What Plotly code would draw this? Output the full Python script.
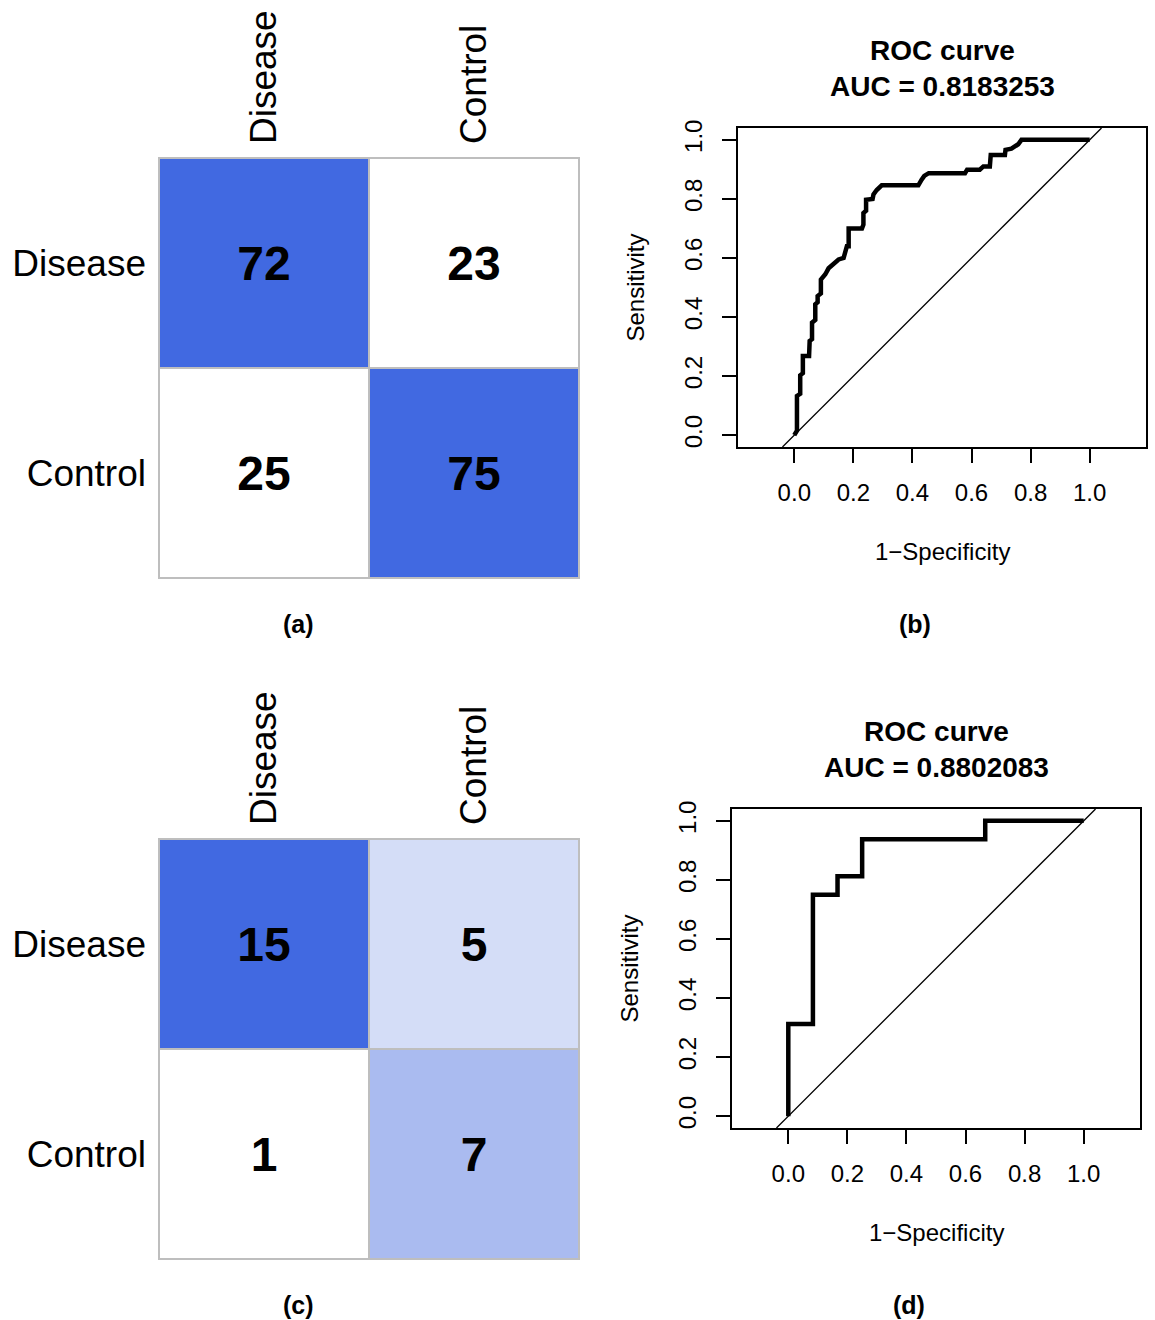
import plotly.graph_objects as go

# ---- data -------------------------------------------------------------
classes = ["Disease", "Control"]

# confusion matrices (rows: predicted, columns: actual)
cm_train = [[72, 23],
            [25, 75]]
cm_test = [[15, 5],
           [1, 7]]

# ROC curve vertices (1 - specificity, sensitivity)
roc_train_fpr = [0.000, 0.009, 0.009, 0.020, 0.020, 0.029, 0.029, 0.050, 0.052,
                 0.060, 0.060, 0.071, 0.071, 0.079, 0.079, 0.090, 0.090, 0.105,
                 0.116, 0.133, 0.150, 0.167, 0.175, 0.178, 0.184, 0.184, 0.229,
                 0.234, 0.234, 0.243, 0.243, 0.265, 0.268, 0.279, 0.296, 0.420,
                 0.431, 0.440, 0.455, 0.578, 0.585, 0.628, 0.640, 0.662, 0.665,
                 0.713, 0.715, 0.735, 0.758, 0.769, 1.000]
roc_train_tpr = [0.000, 0.015, 0.133, 0.140, 0.203, 0.210, 0.268, 0.268, 0.319,
                 0.325, 0.381, 0.390, 0.443, 0.450, 0.471, 0.480, 0.527, 0.545,
                 0.565, 0.580, 0.595, 0.600, 0.625, 0.640, 0.640, 0.700, 0.700,
                 0.713, 0.752, 0.760, 0.797, 0.800, 0.815, 0.830, 0.846, 0.846,
                 0.865, 0.878, 0.887, 0.887, 0.899, 0.899, 0.910, 0.910, 0.949,
                 0.949, 0.966, 0.970, 0.985, 1.000, 1.000]
auc_train = 0.8183253

roc_test_fpr = [0.0, 0.0, 1/12, 1/12, 2/12, 2/12, 3/12, 3/12, 8/12, 8/12, 1.0]
roc_test_tpr = [0.0, 5/16, 5/16, 12/16, 12/16, 13/16, 13/16, 15/16, 15/16, 1.0, 1.0]
auc_test = 0.8802083

roc_ticks = [0.0, 0.2, 0.4, 0.6, 0.8, 1.0]

# ---- styling ----------------------------------------------------------
FONT = "Liberation Sans, Arial, Helvetica, sans-serif"
W, H = 1155, 1320
Y_RANGE = [-0.04, 1.04]
X_RANGE = [-0.1906, 1.1906]
GRID_GREY = "#BEBEBE"

# white -> royalblue ramp; the extremes saturate, the middle is eased
CELL_SCALE = [
    [0.00, "#FFFFFF"],
    [0.05, "#FFFFFF"],
    [0.286, "#D4DDF7"],
    [0.429, "#AABBF0"],
    [0.90, "#4169E1"],
    [1.00, "#4169E1"],
]

fig = go.Figure()


def px_x(a, b):
    return [a / W, b / W]


def px_y(top, bottom):
    return [1 - bottom / H, 1 - top / H]


def add_matrix(cm, n):
    xa, ya = ("x", "y") if n == 1 else (f"x{n}", f"y{n}")
    flat = [v for row in cm for v in row]
    fig.add_trace(go.Heatmap(
        z=cm, x=classes, y=classes, xaxis=xa, yaxis=ya,
        colorscale=CELL_SCALE,
        zmin=min(flat), zmax=max(flat), showscale=False,
        texttemplate="%{z}",
        textfont=dict(family=FONT, size=48, color="black", weight="bold"),
        hoverinfo="skip",
    ))
    for i in range(len(classes)):
        for j in range(len(classes)):
            fig.add_shape(type="rect", xref=xa, yref=ya,
                          x0=j - 0.5, x1=j + 0.5, y0=i - 0.5, y1=i + 0.5,
                          line=dict(color=GRID_GREY, width=2))


def add_roc(fpr, tpr, n):
    xa, ya = f"x{n}", f"y{n}"
    fig.add_trace(go.Scatter(
        x=Y_RANGE, y=Y_RANGE, xaxis=xa, yaxis=ya, mode="lines",
        line=dict(color="black", width=1.3), hoverinfo="skip", showlegend=False,
    ))
    fig.add_trace(go.Scatter(
        x=fpr, y=tpr, xaxis=xa, yaxis=ya, mode="lines",
        line=dict(color="black", width=4.5), hoverinfo="skip", showlegend=False,
    ))


add_matrix(cm_train, 1)
add_roc(roc_train_fpr, roc_train_tpr, 2)
add_matrix(cm_test, 3)
add_roc(roc_test_fpr, roc_test_tpr, 4)

matrix_x = dict(
    type="category", side="top", tickangle=-90, ticks="", showline=False,
    showgrid=False, zeroline=False, ticklabelstandoff=12, automargin=False,
    tickfont=dict(family=FONT, size=37, color="black"),
)
matrix_y = dict(
    type="category", autorange="reversed", ticks="", showline=False,
    showgrid=False, zeroline=False, ticklabelstandoff=11, automargin=False,
    tickfont=dict(family=FONT, size=37, color="black"),
)
roc_common = dict(
    showgrid=False, zeroline=False, showline=True, mirror=True,
    linecolor="black", linewidth=1.5, ticks="outside", ticklen=14,
    tickwidth=1.5, tickcolor="black", tickvals=roc_ticks, tickformat=".1f",
    automargin=False, tickfont=dict(family=FONT, size=24, color="black"),
)

fig.update_layout(
    width=W, height=H, margin=dict(l=0, r=0, t=0, b=0),
    paper_bgcolor="white", plot_bgcolor="white", showlegend=False,
    font=dict(family=FONT, color="black"),
    xaxis=dict(domain=px_x(158, 580), anchor="y", **matrix_x),
    yaxis=dict(domain=px_y(157, 579), anchor="x", **matrix_y),
    xaxis2=dict(domain=px_x(738, 1146), anchor="y2", range=X_RANGE,
                ticklabelstandoff=9, **roc_common),
    yaxis2=dict(domain=px_y(128, 447), anchor="x2", range=Y_RANGE,
                tickangle=-90, ticklabelstandoff=11, **roc_common),
    xaxis3=dict(domain=px_x(158, 580), anchor="y3", **matrix_x),
    yaxis3=dict(domain=px_y(838, 1260), anchor="x3", **matrix_y),
    xaxis4=dict(domain=px_x(732, 1140), anchor="y4", range=X_RANGE,
                ticklabelstandoff=9, **roc_common),
    yaxis4=dict(domain=px_y(809, 1128), anchor="x4", range=Y_RANGE,
                tickangle=-90, ticklabelstandoff=11, **roc_common),
)

annotations = []
for n, auc in ((2, auc_train), (4, auc_test)):
    xd, yd = f"x{n} domain", f"y{n} domain"
    annotations.append(dict(
        xref=xd, yref=yd, x=0.5, y=1, yshift=24, xanchor="center",
        yanchor="bottom", showarrow=False, align="center",
        text=f"<b>ROC curve<br>AUC = {auc:.7f}</b>",
        font=dict(family=FONT, size=28, color="black"),
    ))
    annotations.append(dict(
        xref=xd, yref=yd, x=0.5, y=0, yshift=-104, xanchor="center",
        yanchor="middle", showarrow=False, text="1\u2212Specificity",
        font=dict(family=FONT, size=24, color="black"),
    ))
    annotations.append(dict(
        xref=xd, yref=yd, x=0, y=0.5, xshift=-103, xanchor="center",
        yanchor="middle", showarrow=False, text="Sensitivity", textangle=-90,
        font=dict(family=FONT, size=24, color="black"),
    ))

for label, x, y in (("(a)", 298, 624), ("(b)", 915, 624),
                    ("(c)", 298, 1305), ("(d)", 909, 1305)):
    annotations.append(dict(
        xref="paper", yref="paper", x=x / W, y=1 - y / H, xanchor="center",
        yanchor="middle", showarrow=False, text=f"<b>{label}</b>",
        font=dict(family=FONT, size=25, color="black"),
    ))

fig.update_layout(annotations=annotations)

fig.write_html("out.html")
